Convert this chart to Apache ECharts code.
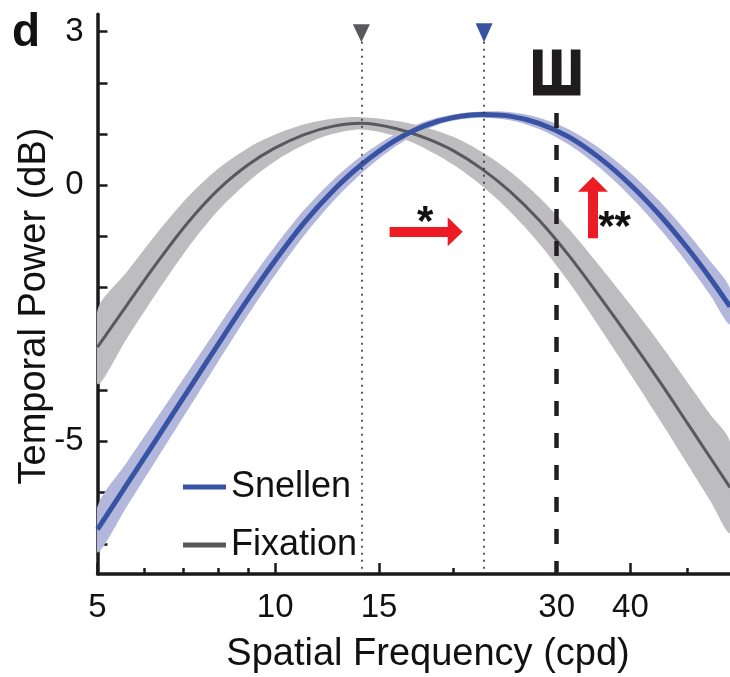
<!DOCTYPE html>
<html>
<head>
<meta charset="utf-8">
<script src="https://cdn.jsdelivr.net/npm/echarts@6/dist/echarts.min.js"></script>
<style>
html, body { margin: 0; padding: 0; background: #fff; }
#main { width: 730px; height: 677px; }
</style>
</head>
<body>
<div id="main"></div>
<script>
// spatial frequency samples (cpd)
var freqs = [5, 5.6, 6.3, 7.1, 8, 9, 10, 11.2, 12.5, 14, 16, 18, 20, 22.4, 25, 28, 31.5, 35.5, 40, 45, 50, 54.5, 59];
// temporal power (dB): mean curve and half width of the shaded band
var snellenMean = [-6.72, -5.85, -4.95, -4.03, -3.11, -2.22, -1.47, -0.73, -0.12, 0.40, 0.88, 1.17, 1.32, 1.38, 1.35, 1.21, 0.94, 0.53, 0.01, -0.60, -1.23, -1.80, -2.37];
var snellenErr = [0.45, 0.43, 0.40, 0.37, 0.34, 0.31, 0.28, 0.25, 0.21, 0.17, 0.12, 0.08, 0.06, 0.06, 0.08, 0.11, 0.15, 0.19, 0.23, 0.27, 0.30, 0.33, 0.35];
var fixationMean = [-3.16, -2.35, -1.52, -0.74, -0.09, 0.40, 0.73, 0.99, 1.15, 1.21, 1.11, 0.92, 0.68, 0.32, -0.12, -0.68, -1.38, -2.18, -3.01, -3.86, -4.65, -5.30, -5.90];
var fixationErr = [0.72, 0.65, 0.58, 0.50, 0.41, 0.33, 0.26, 0.20, 0.15, 0.12, 0.15, 0.21, 0.27, 0.33, 0.39, 0.45, 0.52, 0.60, 0.68, 0.75, 0.80, 0.84, 0.88];

var xTickLabels = [5, 10, 15, 30, 40];
var xMinorTicks = [6, 7, 8, 9, 20, 50];
var yTicks = [-7, -6, -5, -4, -3, -2, -1, 0, 1, 2, 3];
var yTickLabels = [-5, 0, 3];

var fixationPeak = 14;
var snellenPeak = 22.6;
var optotypeFreq = 30;
var xMin = 5, xMax = 59, yMin = -7.59, yMax = 3.34;

// annotation anchors in data units
var shiftArrow = [[15.63, -0.906], [20.19, -0.906]];
var liftArrow = [[34.56, -1.035], [34.56, 0.021]];
var starOne = [17.96, -0.56];
var starTwo = [37.6, -0.66];
var optotypePos = [30, 2.13];

var FONT = 'Liberation Sans, Arial, Helvetica, sans-serif';
var BLUE = '#3953a4', BLUE_BAND = '#b3b7db';
var GREY = '#58595b', GREY_BAND = '#bdbdbf';
var RED = '#ed1c24';
var INK = '#1a1a1a';

function pairs(xs, ys) {
    return xs.map(function (x, i) { return [x, ys[i]]; });
}

function band(xs, mean, err) {
    return xs.map(function (x, i) { return [x, mean[i] - err[i], mean[i] + err[i]]; });
}

function bandSeries(name, data, color, z) {
    return {
        type: 'custom', name: name, data: data, z: z, clip: true, silent: true,
        encode: { x: 0, y: [1, 2] },
        renderItem: function (params, api) {
            if (params.dataIndex !== 0) return;
            var upper = [], lower = [];
            data.forEach(function (d) {
                upper.push(api.coord([d[0], d[2]]));
                lower.unshift(api.coord([d[0], d[1]]));
            });
            return {
                type: 'polygon',
                shape: { points: upper.concat(lower), smooth: 0.3 },
                style: { fill: color }
            };
        }
    };
}

function vLine(x, yTop) {
    return [{ coord: [x, yTop], symbol: 'none' }, { coord: [x, yMin], symbol: 'none' }];
}

var chart = echarts.init(document.getElementById('main'), null, { renderer: 'canvas' });

var axisLineStyle = { color: INK, width: 3.5 };

chart.setOption({
    animation: false,
    textStyle: { fontFamily: FONT },
    grid: { left: 97.5, right: 0, top: 14.2, bottom: 103 },
    legend: {
        data: ['Snellen', 'Fixation'],
        orient: 'vertical', left: 178, top: 464,
        icon: 'rect', itemWidth: 43, itemHeight: 5, itemGap: 22,
        textStyle: { fontSize: 36, color: '#111', fontFamily: FONT },
        selectedMode: false
    },
    xAxis: [{
        type: 'log', logBase: 10, min: xMin, max: xMax,
        axisLine: { onZero: false, lineStyle: axisLineStyle },
        axisTick: { inside: true, interval: 0, length: 11, lineStyle: { color: INK, width: 2.5 }, customValues: xTickLabels },
        axisLabel: { customValues: xTickLabels, interval: 0, fontSize: 33, color: '#111', margin: 17 },
        splitLine: { show: false }, minorTick: { show: false }
    }, {
        // second axis on the same grid only carries the short minor ticks
        type: 'log', logBase: 10, min: xMin, max: xMax, position: 'bottom', offset: 0,
        axisLine: { show: false, onZero: false },
        axisTick: { inside: true, interval: 0, length: 6, lineStyle: { color: INK, width: 2.5 }, customValues: xMinorTicks },
        axisLabel: { show: false },
        splitLine: { show: false }
    }],
    yAxis: {
        type: 'value', min: yMin, max: yMax,
        axisLine: { show: true, onZero: false, lineStyle: axisLineStyle },
        axisTick: { show: true, inside: true, interval: 0, length: 10, lineStyle: { color: INK, width: 2.5 }, customValues: yTicks },
        axisLabel: { customValues: yTickLabels, fontSize: 33, color: '#111', margin: 14 },
        splitLine: { show: false }
    },
    series: [
        bandSeries('snellenBand', band(freqs, snellenMean, snellenErr), BLUE_BAND, 1),
        bandSeries('fixationBand', band(freqs, fixationMean, fixationErr), GREY_BAND, 2),
        {
            type: 'line', name: 'Fixation', data: pairs(freqs, fixationMean), z: 3,
            smooth: 0.35, showSymbol: false, silent: true,
            lineStyle: { color: GREY, width: 3 }, itemStyle: { color: GREY },
            markPoint: {
                silent: true, label: { show: false },
                data: [{ coord: [fixationPeak, 2.97], symbol: 'triangle', symbolRotate: 180, symbolSize: [17, 18], itemStyle: { color: GREY } }]
            },
            markLine: {
                silent: true, label: { show: false }, z: 6,
                lineStyle: { color: '#333', width: 1.6, type: [2, 5] },
                data: [vLine(fixationPeak, 2.80), vLine(snellenPeak, 2.80)]
            }
        },
        {
            type: 'line', name: 'Snellen', data: pairs(freqs, snellenMean), z: 4,
            smooth: 0.35, showSymbol: false, silent: true,
            lineStyle: { color: BLUE, width: 5 }, itemStyle: { color: BLUE },
            markPoint: {
                silent: true, label: { show: false },
                data: [{ coord: [snellenPeak, 2.98], symbol: 'triangle', symbolRotate: 180, symbolSize: [17, 19], itemStyle: { color: BLUE } }]
            },
            markLine: {
                silent: true, label: { show: false }, z: 7,
                data: [
                    [{ coord: [optotypeFreq, 1.41], symbol: 'none', lineStyle: { color: '#231f20', width: 4.5, type: [15, 17] } },
                     { coord: [optotypeFreq, yMin], symbol: 'none' }],
                    [{ coord: shiftArrow[0], symbol: 'none', lineStyle: { color: RED, width: 10, type: 'solid' } },
                     { coord: shiftArrow[1], symbol: 'triangle', symbolSize: [29, 15], itemStyle: { color: RED } }],
                    [{ coord: liftArrow[0], symbol: 'none', lineStyle: { color: RED, width: 10, type: 'solid' } },
                     { coord: liftArrow[1], symbol: 'triangle', symbolSize: [30, 15], itemStyle: { color: RED } }]
                ]
            }
        },
        // empty series on the minor-tick axis so that axis is laid out
        { type: 'line', xAxisIndex: 1, data: [], silent: true }
    ]
});

function px(pt) {
    return chart.convertToPixel({ gridIndex: 0 }, pt);
}

function label(text, x, y, size, extra) {
    var el = {
        type: 'text', x: x, y: y,
        style: { text: text, fontSize: size, fontFamily: FONT, fill: '#111', align: 'center', verticalAlign: 'middle' }
    };
    for (var k in extra) {
        if (k === 'style') { for (var s in extra.style) el.style[s] = extra.style[s]; }
        else el[k] = extra[k];
    }
    return el;
}

var p1 = px(starOne), p2 = px(starTwo), pw = px(optotypePos);
chart.setOption({
    graphic: [
        label('d', 26, 33, 46, { style: { fontWeight: 'bold' } }),
        label('Spatial Frequency (cpd)', 428, 655, 38, {}),
        label('Temporal Power (dB)', 35, 306, 38, { rotation: Math.PI / 2 }),
        label('Ш', pw[0], pw[1], 63, { scaleX: 0.82, style: { fontWeight: 'bold', fill: '#1e1c1d', stroke: '#1e1c1d', lineWidth: 3 } }),
        label('*', p1[0], p1[1] + 9, 42, { style: { fontWeight: 'bold' } }),
        label('**', p2[0], p2[1] + 9, 42, { style: { fontWeight: 'bold' } })
    ]
});
</script>
</body>
</html>
